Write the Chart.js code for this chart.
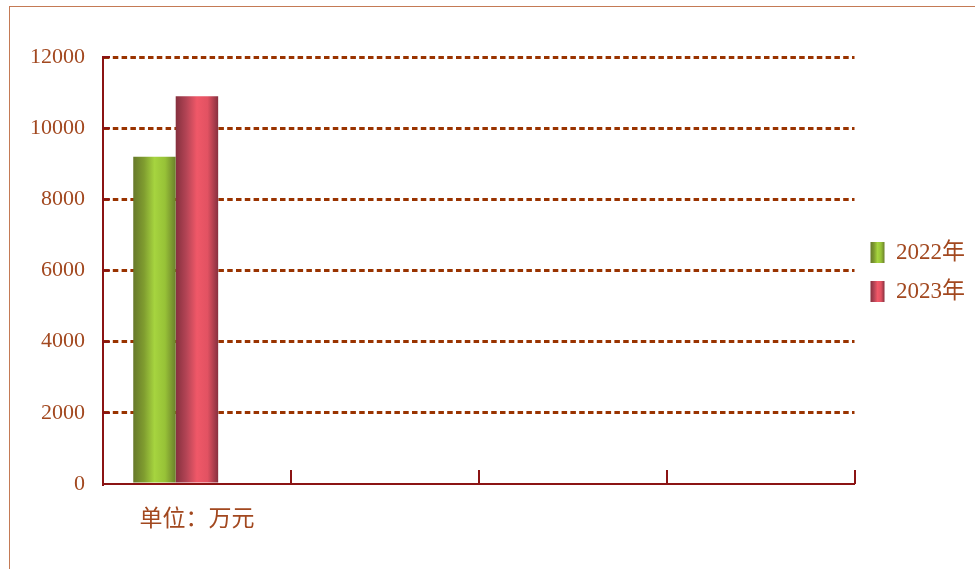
<!DOCTYPE html>
<html>
<head>
<meta charset="utf-8">
<script src="https://cdn.jsdelivr.net/npm/chart.js@4.4.1/dist/chart.umd.min.js"></script>
<style>
  html, body { margin: 0; padding: 0; background: #fff; overflow: hidden; }
  #frame { position: absolute; left: 9px; top: 6px; width: 975px; height: 569px; border: 1px solid #c47a55; }
  #chart { position: absolute; left: 0; top: 0; }
</style>
</head>
<body>
<div id="frame"></div>
<canvas id="chart" width="975" height="569"></canvas>
<script>
// chart data
const categories = ['单位：万元', '', '', '']
const values2022 = [9200, null, null, null]
const values2023 = [10900, null, null, null]
const valuesEmpty = [null, null, null, null]
const seriesLabels = ['2022年', '2023年', '']
const yMin = 0
const yMax = 12000
const yStep = 2000

// colours
const textColor = '#a2481f'
const axisColor = '#8b1414'
const gridColor = '#993300'
const fontFamily = '"Liberation Serif", "Noto Sans CJK SC", serif'

// gradient stops for the cylinder look of each series
const greenStops = ['#67792a', '#7f9c2f', '#a6d43f', '#97c237', '#6b802b']
const redStops = ['#85303e', '#b34455', '#f05868', '#e25262', '#87303f']

const catPercent = 0.678

function fillGradient(ctx, left, width, stops) {
	if (!Number.isFinite(left) || !Number.isFinite(width) || width <= 0) return stops[2]
	const g = ctx.createLinearGradient(left, 0, left + width, 0)
	const pos = [0, 0.25, 0.5, 0.75, 1]
	stops.forEach((c, i) => g.addColorStop(pos[i], c))
	return g
}

// work out the bar's horizontal position from the category scale
function barGradient(context, stops) {
	const chart = context.chart
	const xScale = chart.scales.x
	if (!xScale || context.dataIndex === undefined) return stops[2]
	const catWidth = xScale.width / categories.length
	const barWidth = (catWidth * catPercent) / 3
	const center = xScale.getPixelForValue(context.dataIndex)
	const left = center - 1.5 * barWidth + context.datasetIndex * barWidth
	return fillGradient(chart.ctx, left, barWidth, stops)
}

// short tick marks pointing into the plot, and gradient legend boxes
const axisMarks = {
	id: 'axisMarks',
	beforeDraw(chart) {
		const legend = chart.legend
		if (!legend || !legend.legendHitBoxes) return
		const stopsList = [greenStops, redStops]
		legend.legendItems.forEach((item, i) => {
			const hb = legend.legendHitBoxes[i]
			if (hb && stopsList[i]) {
				item.fillStyle = fillGradient(chart.ctx, hb.left, 14, stopsList[i])
			}
		})
	},
	afterDraw(chart) {
		const { ctx, chartArea, scales } = chart
		ctx.save()
		ctx.strokeStyle = axisColor
		ctx.lineWidth = 2
		const xs = scales.x
		for (let i = 0; i <= categories.length; i++) {
			const x = Math.round(xs.left + (i * xs.width) / categories.length)
			ctx.beginPath()
			ctx.moveTo(x, chartArea.bottom)
			ctx.lineTo(x, chartArea.bottom - 14)
			ctx.stroke()
		}
		const ys = scales.y
		ys.ticks.forEach((t) => {
			const y = ys.getPixelForValue(t.value)
			ctx.beginPath()
			ctx.moveTo(chartArea.left, y)
			ctx.lineTo(chartArea.left + 7, y)
			ctx.stroke()
		})
		ctx.restore()
	},
}

new Chart(document.getElementById('chart'), {
	type: 'bar',
	data: {
		labels: categories,
		datasets: [
			{
				label: seriesLabels[0],
				data: values2022,
				backgroundColor: (c) => barGradient(c, greenStops),
			},
			{
				label: seriesLabels[1],
				data: values2023,
				backgroundColor: (c) => barGradient(c, redStops),
			},
			{
				label: seriesLabels[2],
				data: valuesEmpty,
				backgroundColor: 'transparent',
			},
		],
	},
	options: {
		responsive: false,
		animation: false,
		devicePixelRatio: 1,
		categoryPercentage: catPercent,
		barPercentage: 1,
		layout: { padding: { top: 57, left: 0, right: 0, bottom: 0 } },
		plugins: {
			tooltip: { enabled: false },
			legend: {
				position: 'right',
				align: 'start',
				// empty title used only as a spacer to push the entries down
				title: { display: true, text: ' ', font: { size: 10 }, padding: { top: 156, bottom: 0 } },
				labels: {
					boxWidth: 14,
					boxHeight: 21,
					padding: 16,
					color: textColor,
					font: { family: fontFamily, size: 23 },
					filter: (item) => item.text !== '',
				},
			},
		},
		scales: {
			x: {
				afterFit: (s) => { s.height = 85 },
				grid: { display: true, drawOnChartArea: false, drawTicks: false, color: 'transparent' },
				border: { display: true, color: axisColor, width: 2 },
				ticks: {
					color: textColor,
					padding: 22,
					font: { family: fontFamily, size: 23 },
					maxRotation: 0,
				},
			},
			y: {
				min: yMin,
				max: yMax,
				afterFit: (s) => { s.width = 103 },
				grid: {
					drawTicks: false,
					color: (c) => (c.tick && c.tick.value === 0 ? 'transparent' : gridColor),
					lineWidth: 3,
				},
				border: { display: true, color: axisColor, width: 2, dash: [5.5, 3.3] },
				ticks: {
					stepSize: yStep,
					color: textColor,
					padding: 18,
					font: { family: fontFamily, size: 22 },
					callback: (v) => String(v),
				},
			},
		},
	},
	plugins: [axisMarks],
})
</script>
</body>
</html>
